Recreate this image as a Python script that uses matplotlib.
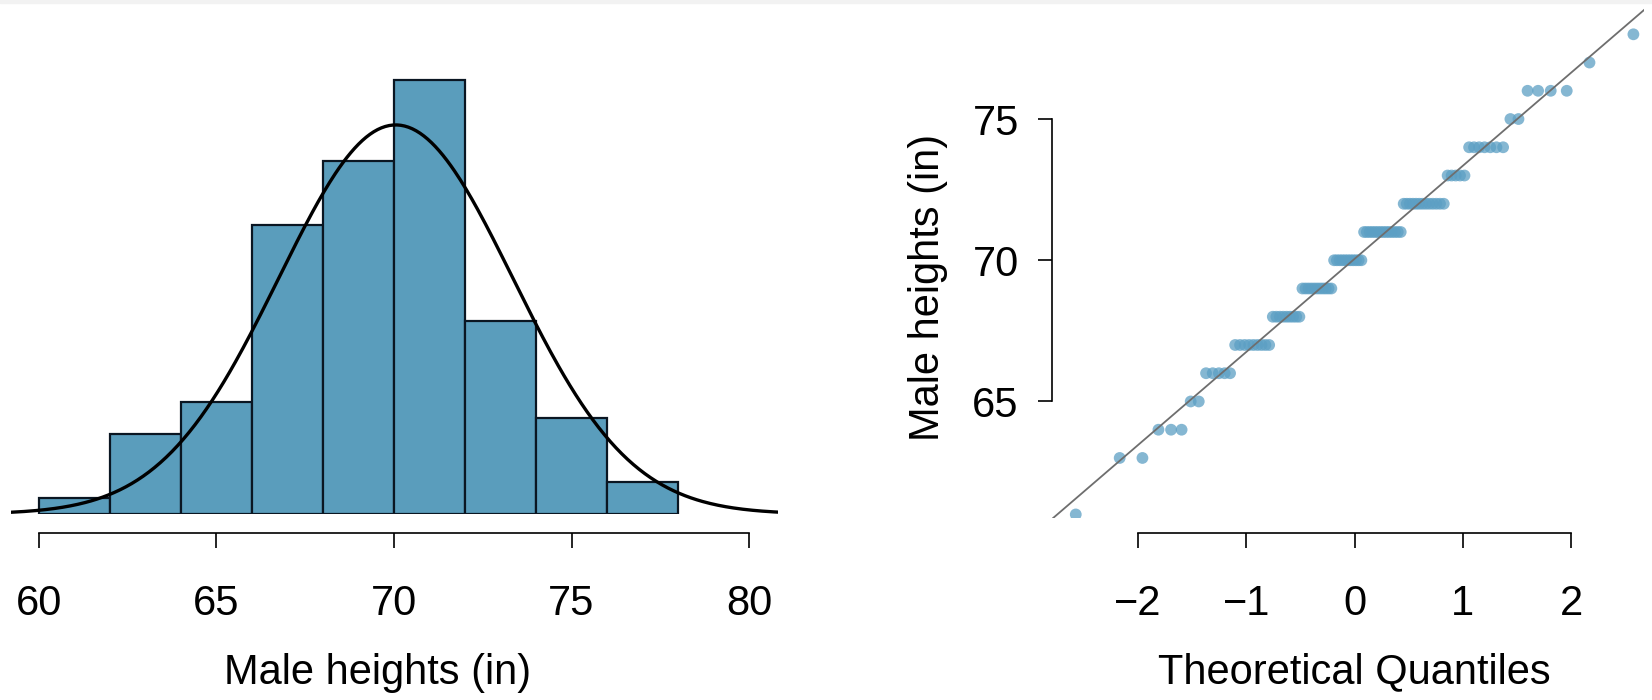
import numpy as np
import matplotlib.pyplot as plt
from matplotlib.patches import Rectangle
from math import erf

plt.rcParams['font.family'] = ['Liberation Sans', 'DejaVu Sans']

# data: male heights (in), value -> count
heights = [61, 63, 64, 65, 66, 67, 68, 69, 70, 71, 72, 73, 74, 75, 76, 77, 78]
counts = [1, 2, 3, 2, 5, 9, 9, 11, 11, 14, 13, 5, 7, 2, 4, 1, 1]
bin_edges = [60, 62, 64, 66, 68, 70, 72, 74, 76, 78]
x_ticks_left = [60, 65, 70, 75, 80]
y_ticks_right = [65, 70, 75]
x_ticks_right = [-2, -1, 0, 1, 2]

sample = np.repeat(heights, counts).astype(float)
n = len(sample)
mu = sample.mean()
sd = sample.std(ddof=1)

W, H = 1652, 700
fig = plt.figure(figsize=(W / 100, H / 100), dpi=100)
fig.patches.append(Rectangle((0, 1 - 3 / H), 1, 3 / H, transform=fig.transFigure,
                             color='#f2f2f2', zorder=0))

bar_col = '#5A9DBC'
fs = 30

# ---------------- histogram ----------------
ax1 = fig.add_axes([10.5 / W, 186 / H, 767 / W, 482 / H])
# shift by 0.5 so that integer heights fall in right-closed bins like R's hist
ax1.hist(sample - 0.5, bins=bin_edges, color=bar_col, edgecolor='#0a1622', linewidth=1.6)
xx = np.linspace(59.2, 80.8, 400)
dens = n * 2 / (sd * np.sqrt(2 * np.pi)) * np.exp(-0.5 * ((xx - mu) / sd) ** 2)
ax1.plot(xx, dens, color='black', lw=2.4)
ax1.set_xlim(59.2, 80.8)
ax1.set_ylim(0, 30)
for s in ['top', 'right', 'left']:
    ax1.spines[s].set_visible(False)
ax1.spines['bottom'].set_position(('outward', 13.7))
ax1.spines['bottom'].set_bounds(60, 80)
ax1.spines['bottom'].set_linewidth(1.2)
ax1.set_yticks([])
ax1.set_xticks(x_ticks_left)
ax1.tick_params(axis='x', length=10.8, width=1.2, pad=26, labelsize=fs)
ax1.set_xlabel('Male heights (in)', fontsize=fs)
ax1.xaxis.set_label_coords(0.479, -0.288)

# ---------------- QQ plot ----------------
ax2 = fig.add_axes([1051.5 / W, 181.6 / H, 592.1 / W, 516.3 / H])
p = (np.arange(1, n + 1) - 0.5) / n


def qnorm(pp):
    lo, hi = -10.0, 10.0
    for _ in range(80):
        mid = (lo + hi) / 2
        if 0.5 * (1 + erf(mid / np.sqrt(2))) < pp:
            lo = mid
        else:
            hi = mid
    return (lo + hi) / 2


q = np.array([qnorm(v) for v in p])
ys = np.sort(sample)
ax2.scatter(q, ys, s=72, color='#5C9FC4', alpha=0.75, edgecolors='none', zorder=3)
xl = np.array([-3.5, 3.5])
ax2.plot(xl, mu + sd * xl, color='#6e6e6e', lw=1.3, zorder=4)
ax2.set_xlim(-2.80, 2.67)
ax2.set_ylim(60.86, 79.14)
for s in ['top', 'right']:
    ax2.spines[s].set_visible(False)
ax2.spines['left'].set_bounds(65, 75)
ax2.spines['bottom'].set_bounds(-2, 2)
ax2.spines['bottom'].set_position(('outward', 10.5))
ax2.spines['left'].set_linewidth(1.2)
ax2.spines['bottom'].set_linewidth(1.2)
ax2.set_xticks(x_ticks_right)
ax2.set_yticks(y_ticks_right)
ax2.tick_params(axis='x', length=10.8, width=1.2, pad=26, labelsize=fs)
ax2.tick_params(axis='y', length=10, width=1.2, pad=13.5, labelsize=fs)
ax2.set_xlabel('Theoretical Quantiles', fontsize=fs)
ax2.xaxis.set_label_coords(0.511, -0.26)
ax2.set_ylabel('Male heights (in)', fontsize=fs)
ax2.yaxis.set_label_coords(-0.175, 0.448)

fig.savefig('out.png', dpi=100)
